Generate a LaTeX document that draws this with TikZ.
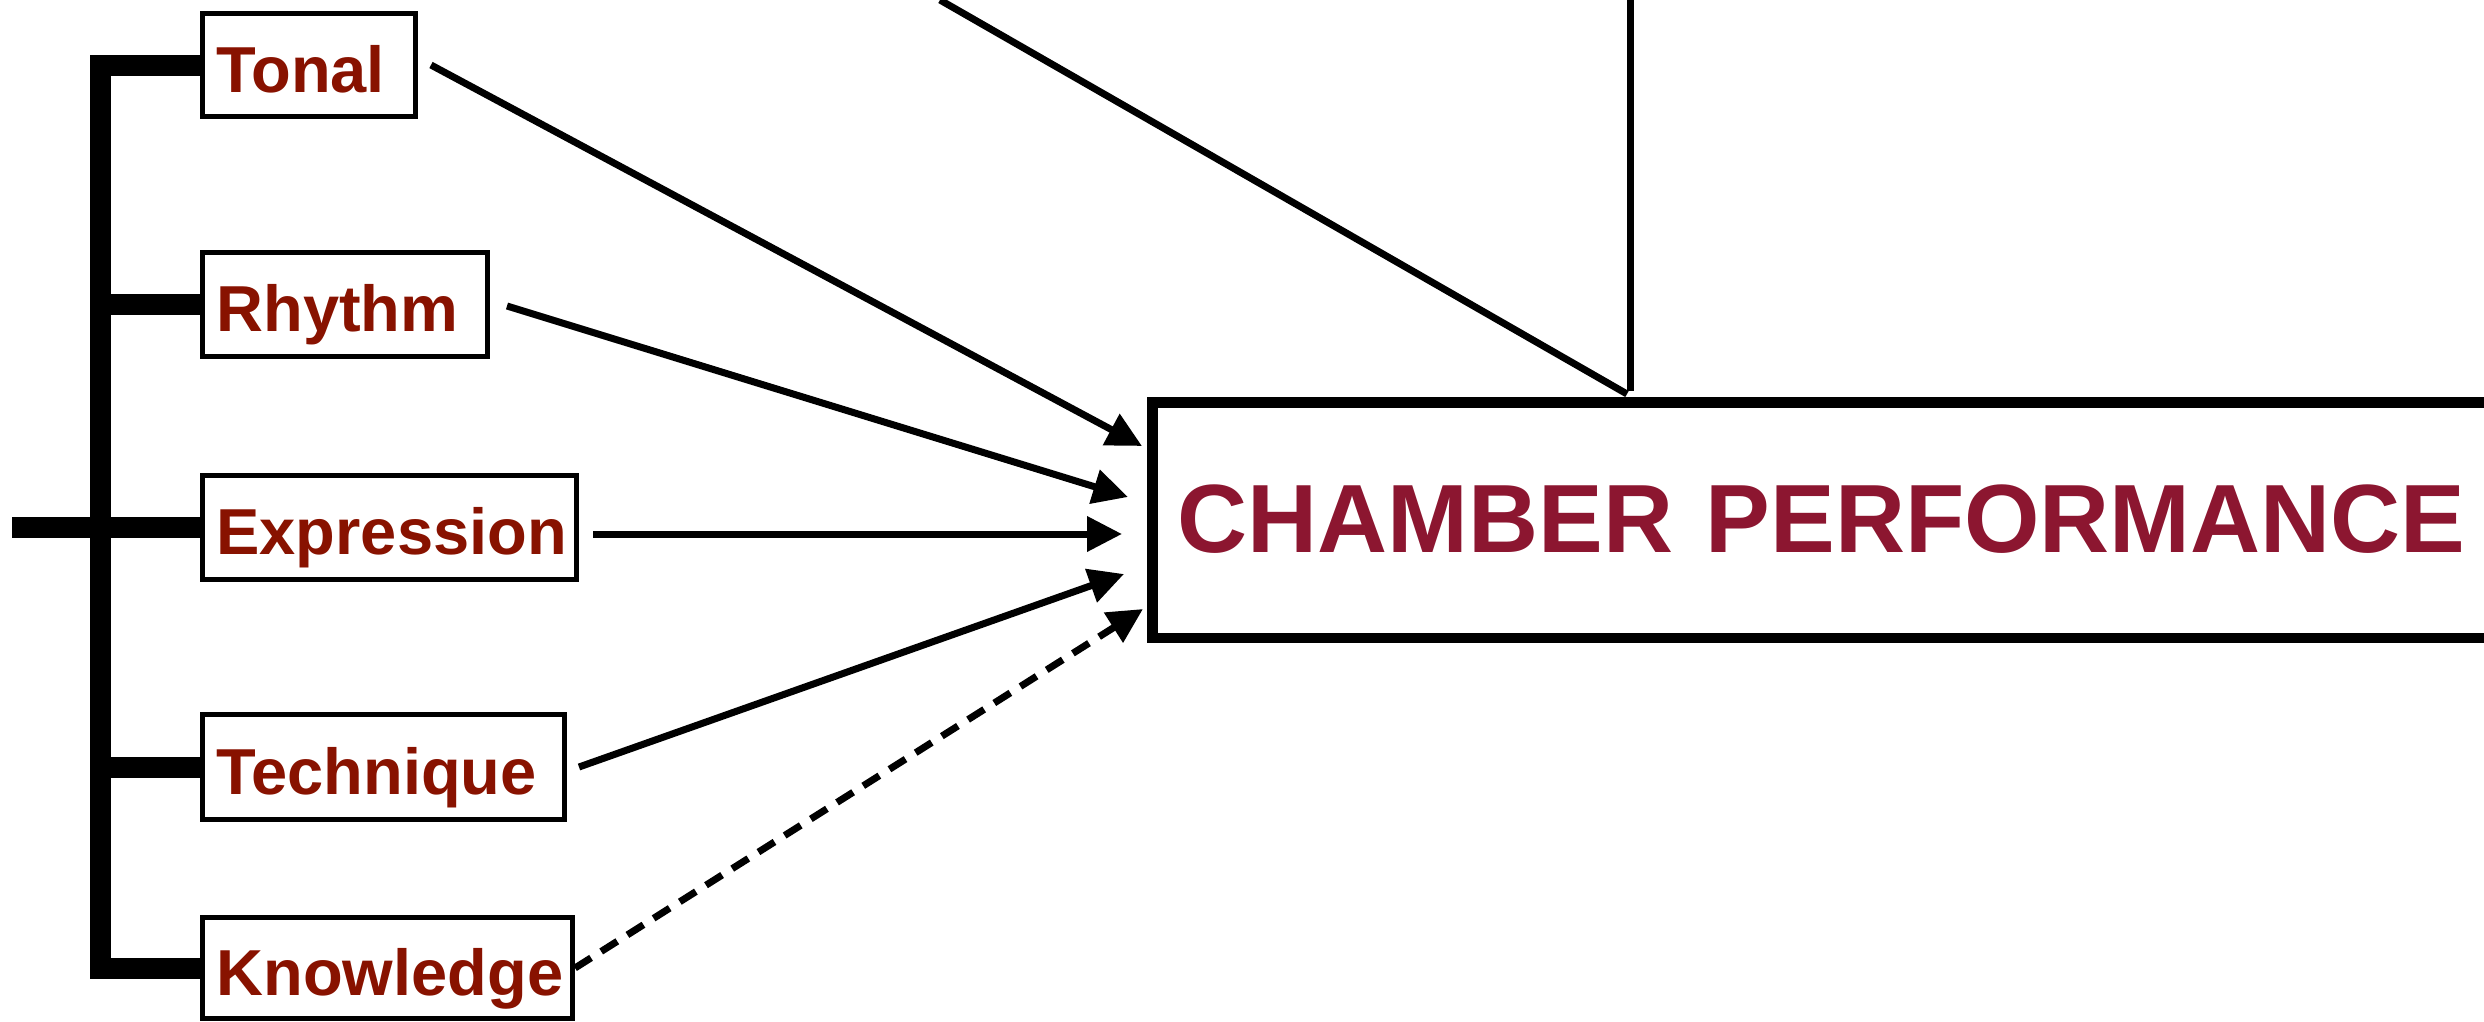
\documentclass[tikz,border=0pt]{standalone}
\usepackage{fontspec}
\setmainfont{Liberation Sans}
\usetikzlibrary{arrows.meta,calc}
\definecolor{labelred}{RGB}{136,18,0}
\definecolor{perfred}{RGB}{140,22,48}
\begin{document}
\begin{tikzpicture}[x=1pt,y=-1pt,
  lbl/.style={draw=black, line width=5pt, anchor=west, inner xsep=14pt, inner ysep=0pt,
    align=left, text height=54pt, text depth=0pt,
    font=\fontsize{65}{65}\selectfont\bfseries, text=labelred},
  bigbox/.style={draw=black, line width=10.5pt, anchor=west, inner xsep=25.5pt, inner ysep=0pt,
    align=left, text height=64pt, text depth=0pt,
    font=\fontsize{97}{97}\selectfont\bfseries, text=perfred},
  arr/.style={line width=7pt, -{Triangle[length=35pt,width=34pt]}},
  dotarr/.style={arr, dash pattern=on 19pt off 12pt},
  bracket/.style={line width=21pt, line join=miter},
  conn/.style={line width=7pt}]
\useasboundingbox (0,0) rectangle (2484,1021);
\clip (0,0) rectangle (2484,1021);

% factor boxes
\node[lbl, minimum width=213pt, minimum height=103pt, text width=185pt] (tonal) at (200,65) {Tonal};
\node[lbl, minimum width=285pt, minimum height=104pt, text width=257pt] (rhythm) at (200,304.5) {Rhythm};
\node[lbl, minimum width=374pt, minimum height=104pt, text width=346pt] (expression) at (200,527.5) {Expression};
\node[lbl, minimum width=362pt, minimum height=105pt, text width=334pt] (technique) at (200,767) {Technique};
\node[lbl, minimum width=370pt, minimum height=101pt, text width=342pt] (knowledge) at (200,968) {Knowledge};

% outcome box
\node[bigbox, minimum width=1500pt, minimum height=235.5pt, text width=1449pt] (perf) at (1147,520) {CHAMBER PERFORMANCE};

% bracket
\coordinate (btop) at (100.5,65);
\coordinate (bbot) at (100.5,968);
\coordinate (bleft) at (12,527.5);
\draw[bracket] (tonal.west) -- (btop) -- (bbot) -- (knowledge.west);
\draw[bracket] (rhythm.west) -- (rhythm.west -| btop);
\draw[bracket] (technique.west) -- (technique.west -| btop);
\draw[bracket] (bleft) -- (expression.west);

% arrow tips at the outcome box
\coordinate (tipT) at (1142,446);
\coordinate (tipR) at (1128,497);
\coordinate (tipE) at (1122,534);
\coordinate (tipQ) at (1124,574);
\coordinate (tipK) at (1143,609);

\draw[arr] ([xshift=13pt]tonal.east) -- (tipT);
\draw[arr] ([xshift=17pt,yshift=-1.5pt]rhythm.east) -- (tipR);
\draw[arr] ([xshift=14pt]expression.east |- tipE) -- (tipE);
\draw[arr] ([xshift=12pt]technique.east) -- (tipQ);
\draw[dotarr] (knowledge.east) -- (tipK);

% connector entering from above
\coordinate (topL) at (940,0);
\coordinate (topJ) at (1627,394);
\coordinate (topR) at (1630,0);
\coordinate (topV) at (1630,391);
\draw[conn] (topL) -- (topJ);
\draw[conn] (topR) -- (topV);
\end{tikzpicture}
\end{document}
